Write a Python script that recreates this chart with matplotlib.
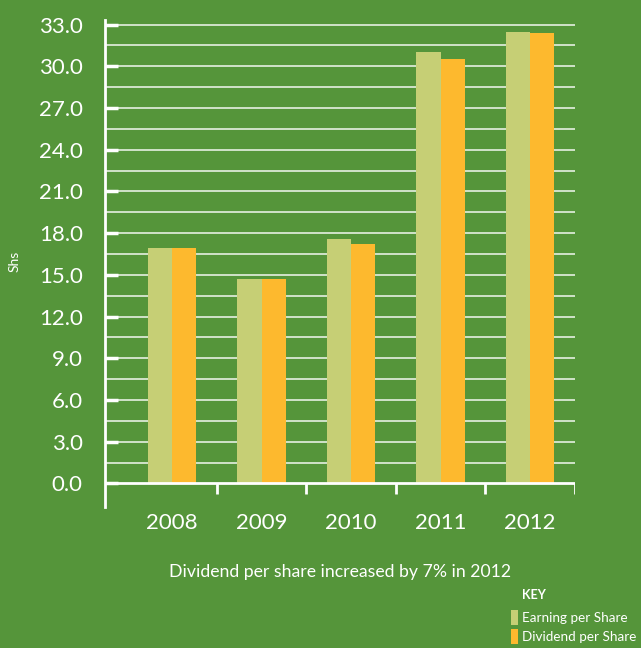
#!/usr/bin/env python3
"""
Earnings and dividend per share, 2008-2012 (bar chart on green panel)
"""

import matplotlib.pyplot as plt
import numpy as np

# Data
years = ['2008', '2009', '2010', '2011', '2012']
earning_per_share = [16.9, 14.7, 17.55, 31.0, 32.5]
dividend_per_share = [16.9, 14.7, 17.2, 30.5, 32.4]
ytick_values = np.arange(0, 33.1, 3.0)
grid_values = np.arange(1.5, 33.1, 1.5)

BG = '#55953a'
EPS_COLOR = '#c6cf75'
DPS_COLOR = '#fdb92e'

plt.rcParams['font.family'] = ['Lato', 'DejaVu Sans']


def create_chart():
    fig = plt.figure(figsize=(6.41, 6.48), dpi=100, facecolor=BG)
    ax = fig.add_axes([0.1638, 0.2176, 0.733, 0.7515])
    ax.set_facecolor(BG)

    x = np.arange(len(years))
    width = 0.27

    # Gridlines every 1.5
    for g in grid_values:
        ax.axhline(g, color='white', linewidth=1.2, alpha=0.85, zorder=1)

    eps = ax.bar(x - width / 2, earning_per_share, width, color=EPS_COLOR,
                 zorder=3, label='Earning per Share')
    dps = ax.bar(x + width / 2, dividend_per_share, width, color=DPS_COLOR,
                 zorder=3, label='Dividend per Share')

    # x axis line at zero with category separators
    ax.axhline(0, color='white', linewidth=2, zorder=4)
    bounds = np.arange(len(years)) + 0.5
    ax.vlines(bounds, -0.75, 0, color='white', linewidth=2, zorder=4)

    ax.set_xlim(-0.75, 4.5)
    ax.set_ylim(-1.7, 33.33)

    # Spines
    for side in ['top', 'right', 'bottom']:
        ax.spines[side].set_visible(False)
    ax.spines['left'].set_color('white')
    ax.spines['left'].set_linewidth(2)

    ax.set_yticks(ytick_values)
    ax.set_yticklabels([f'{v:.1f}' for v in ytick_values])
    ax.tick_params(axis='y', direction='in', length=9.5, width=2.5,
                   colors='white', labelsize=16, pad=16)
    ax.set_xticks(x)
    ax.set_xticklabels(years)
    ax.tick_params(axis='x', length=0, colors='white', labelsize=16, pad=4)

    fig.text(0.022, 0.596, 'Shs', rotation=90, color='white', fontsize=10,
             ha='center', va='center')
    fig.text(0.53, 0.118, 'Dividend per share increased by 7% in 2012',
             color='white', fontsize=12.7, ha='center', va='center')

    # Key
    fig.text(0.814, 0.082, 'KEY', color='white', fontsize=9,
             fontweight='bold', ha='left', va='center')
    leg = fig.legend(handles=[eps, dps], loc='upper left',
                     bbox_to_anchor=(0.797, 0.0586), frameon=False,
                     fontsize=9.7, handlelength=0.55, handleheight=1.3,
                     handletextpad=0.3, labelspacing=0.35, borderpad=0,
                     borderaxespad=0)
    for t in leg.get_texts():
        t.set_color('white')

    plt.savefig('out.png', dpi=100, facecolor=BG)
    plt.close()


if __name__ == "__main__":
    create_chart()
